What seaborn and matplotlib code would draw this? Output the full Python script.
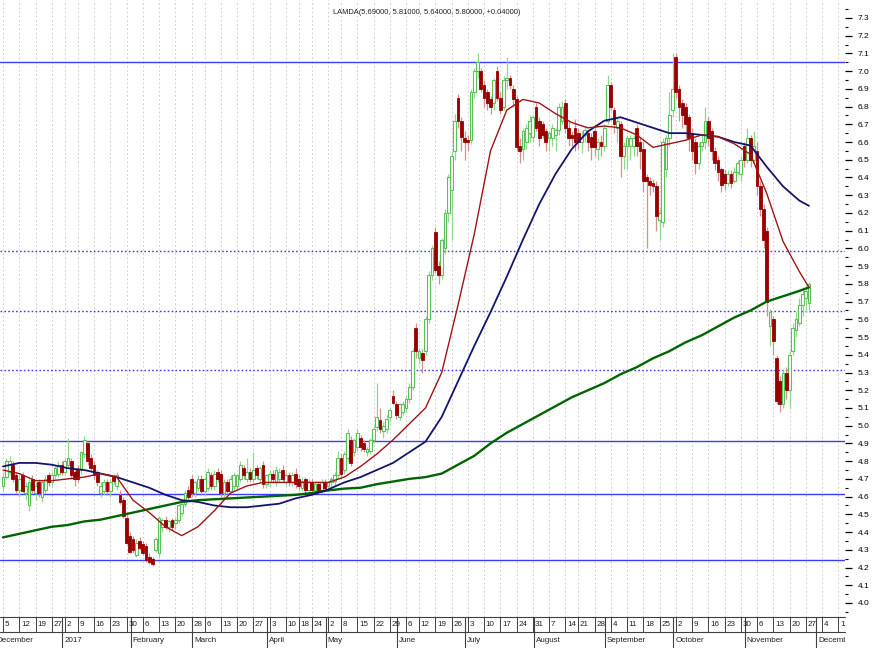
import numpy as np
import pandas as pd
import matplotlib
matplotlib.use("Agg")
import matplotlib.pyplot as plt
import matplotlib.transforms as mtransforms
from matplotlib import font_manager
import seaborn as sns

# ---------------- data ----------------
title_text = "LAMDA(5.69000, 5.81000, 5.64000, 5.80000, +0.04000)"
start_date = "2016-12-05"
holidays = ["2016-12-26", "2017-01-06", "2017-02-27", "2017-04-14", "2017-04-17",
            "2017-05-01", "2017-06-05", "2017-08-15"]

open_ = [
    4.66, 4.71, 4.74, 4.78, 4.72,
    4.64, 4.72, 4.62, 4.55, 4.70,
    4.62, 4.68, 4.60, 4.64, 4.72,
    4.68, 4.72, 4.73, 4.78,
    4.74, 4.78, 4.80, 4.74,
    4.75, 4.75, 4.84, 4.90, 4.82,
    4.78, 4.74, 4.62, 4.63, 4.68,
    4.63, 4.71, 4.66, 4.61, 4.58,
    4.48, 4.38, 4.36, 4.27, 4.35,
    4.33, 4.32, 4.26, 4.25, 4.30,
    4.28, 4.43, 4.47, 4.43, 4.47,
    4.45, 4.47, 4.51, 4.56, 4.64,
    4.70, 4.62, 4.65, 4.70,
    4.63, 4.65, 4.72, 4.66, 4.74,
    4.73, 4.62, 4.68, 4.63, 4.66,
    4.66, 4.70, 4.76, 4.70, 4.74,
    4.70, 4.76, 4.70, 4.78, 4.67,
    4.68, 4.73, 4.68, 4.70, 4.75,
    4.68, 4.72, 4.68, 4.73,
    4.70, 4.65, 4.70, 4.64,
    4.68, 4.64, 4.67, 4.64, 4.68,
    4.66, 4.68, 4.69, 4.72,
    4.82, 4.75, 4.82, 4.92, 4.85,
    4.88, 4.93, 4.90, 4.85, 4.86,
    4.92, 4.99, 5.03, 4.97, 4.98,
    5.05, 5.17, 5.12, 5.05, 5.08,
    5.10, 5.15, 5.22, 5.55,
    5.38, 5.41, 5.42, 5.60, 5.85,
    6.09, 5.90, 5.85, 6.00, 6.20,
    6.33, 6.55, 6.85, 6.72, 6.62,
    6.61, 6.61, 6.88, 7.00, 7.00,
    6.92, 6.88, 6.84, 6.82, 7.00,
    6.85, 6.80, 6.95, 6.96, 6.90,
    6.84, 6.58, 6.56, 6.60, 6.65,
    6.63, 6.80, 6.72, 6.70, 6.66,
    6.62, 6.62, 6.64, 6.67, 6.72,
    6.82, 6.68, 6.64, 6.68,
    6.65, 6.60, 6.64, 6.65, 6.63,
    6.66, 6.56, 6.60, 6.58, 6.72,
    6.92, 6.78, 6.68, 6.70, 6.52,
    6.58, 6.58, 6.58, 6.68, 6.60,
    6.56, 6.40, 6.38, 6.37, 6.35,
    6.16, 6.15, 6.45, 6.62, 6.78,
    7.08, 6.90, 6.82, 6.80, 6.74,
    6.65, 6.60, 6.48, 6.58, 6.60,
    6.72, 6.66, 6.55, 6.50, 6.45,
    6.42, 6.37, 6.42, 6.38, 6.43,
    6.42, 6.58, 6.50, 6.62, 6.50,
    6.55, 6.35, 6.22, 6.10, 5.56,
    5.60, 5.38, 5.25, 5.12, 5.30,
    5.20, 5.42, 5.54, 5.58, 5.68,
    5.72, 5.69,
]

high = [
    4.74, 4.82, 4.83, 4.80, 4.74,
    4.72, 4.74, 4.68, 4.70, 4.72,
    4.68, 4.70, 4.70, 4.72, 4.74,
    4.74, 4.77, 4.80, 4.80,
    4.82, 4.93, 4.82, 4.76,
    4.78, 4.86, 4.94, 4.91, 4.84,
    4.80, 4.75, 4.68, 4.70, 4.70,
    4.70, 4.73, 4.74, 4.64, 4.60,
    4.50, 4.40, 4.38, 4.36, 4.37,
    4.35, 4.34, 4.28, 4.26, 4.37,
    4.49, 4.48, 4.49, 4.47, 4.48,
    4.48, 4.56, 4.58, 4.64, 4.66,
    4.72, 4.69, 4.72, 4.72,
    4.71, 4.76, 4.74, 4.75, 4.76,
    4.75, 4.70, 4.70, 4.72, 4.74,
    4.73, 4.80, 4.78, 4.82, 4.76,
    4.85, 4.78, 4.77, 4.80, 4.73,
    4.75, 4.75, 4.77, 4.76, 4.78,
    4.74, 4.74, 4.74, 4.76,
    4.72, 4.71, 4.71, 4.70,
    4.70, 4.68, 4.69, 4.70, 4.70,
    4.69, 4.71, 4.74, 4.86,
    4.84, 4.86, 4.98, 4.94, 4.93,
    4.98, 4.95, 4.92, 4.88, 4.93,
    5.00, 5.24, 5.10, 5.02, 5.06,
    5.10, 5.20, 5.14, 5.13, 5.14,
    5.17, 5.24, 5.44, 5.58,
    5.44, 5.43, 5.62, 5.87, 6.02,
    6.12, 5.93, 6.06, 6.22, 6.42,
    6.55, 6.76, 6.87, 6.74, 6.66,
    6.64, 6.90, 7.02, 7.10, 7.02,
    6.95, 6.90, 6.86, 6.96, 7.03,
    6.88, 6.97, 7.08, 6.98, 6.92,
    6.86, 6.62, 6.68, 6.70, 6.75,
    6.75, 6.82, 6.74, 6.72, 6.68,
    6.66, 6.70, 6.68, 6.82, 6.83,
    6.84, 6.72, 6.66, 6.73,
    6.68, 6.66, 6.69, 6.67, 6.65,
    6.68, 6.62, 6.64, 6.70, 6.98,
    6.94, 6.80, 6.74, 6.72, 6.60,
    6.64, 6.64, 6.64, 6.70, 6.63,
    6.60, 6.42, 6.40, 6.39, 6.38,
    6.22, 6.62, 6.64, 6.88, 7.10,
    7.10, 6.92, 6.84, 6.82, 6.76,
    6.68, 6.62, 6.60, 6.64, 6.80,
    6.74, 6.68, 6.57, 6.52, 6.46,
    6.45, 6.44, 6.44, 6.46, 6.50,
    6.52, 6.60, 6.68, 6.64, 6.66,
    6.60, 6.38, 6.25, 6.12, 5.66,
    5.62, 5.40, 5.28, 5.32, 5.33,
    5.42, 5.58, 5.64, 5.72, 5.78,
    5.80, 5.81,
]

low = [
    4.63, 4.70, 4.72, 4.68, 4.62,
    4.60, 4.62, 4.58, 4.52, 4.62,
    4.58, 4.60, 4.57, 4.62, 4.66,
    4.66, 4.70, 4.71, 4.72,
    4.72, 4.76, 4.70, 4.66,
    4.68, 4.73, 4.82, 4.78, 4.74,
    4.70, 4.66, 4.60, 4.61, 4.61,
    4.60, 4.67, 4.64, 4.56, 4.48,
    4.33, 4.28, 4.28, 4.26, 4.30,
    4.27, 4.23, 4.22, 4.21, 4.29,
    4.26, 4.40, 4.42, 4.40, 4.41,
    4.42, 4.45, 4.49, 4.54, 4.58,
    4.60, 4.60, 4.63, 4.61,
    4.61, 4.63, 4.64, 4.64, 4.68,
    4.60, 4.60, 4.61, 4.62, 4.64,
    4.64, 4.68, 4.70, 4.68, 4.68,
    4.68, 4.70, 4.68, 4.65, 4.65,
    4.66, 4.68, 4.66, 4.68, 4.68,
    4.66, 4.66, 4.66, 4.65,
    4.64, 4.63, 4.62, 4.62,
    4.62, 4.62, 4.62, 4.62, 4.63,
    4.63, 4.65, 4.66, 4.70,
    4.71, 4.73, 4.80, 4.77, 4.83,
    4.86, 4.86, 4.85, 4.83, 4.84,
    4.90, 4.97, 4.96, 4.93, 4.96,
    5.02, 5.12, 5.04, 5.03, 5.06,
    5.08, 5.13, 5.20, 5.38,
    5.35, 5.30, 5.40, 5.58, 5.82,
    5.86, 5.80, 5.83, 5.97, 6.15,
    6.05, 6.50, 6.68, 6.55, 6.50,
    6.55, 6.59, 6.85, 6.96, 6.88,
    6.80, 6.78, 6.76, 6.78, 6.83,
    6.76, 6.78, 6.90, 6.90, 6.80,
    6.55, 6.48, 6.50, 6.56, 6.60,
    6.60, 6.66, 6.58, 6.62, 6.55,
    6.55, 6.58, 6.55, 6.64, 6.70,
    6.65, 6.58, 6.58, 6.55,
    6.56, 6.54, 6.60, 6.55, 6.50,
    6.52, 6.50, 6.52, 6.55, 6.70,
    6.78, 6.65, 6.60, 6.40, 6.45,
    6.45, 6.50, 6.52, 6.52, 6.45,
    6.32, 6.00, 6.30, 6.32, 6.10,
    6.05, 6.12, 6.40, 6.58, 6.74,
    6.85, 6.72, 6.68, 6.62, 6.55,
    6.50, 6.42, 6.45, 6.55, 6.56,
    6.58, 6.50, 6.44, 6.38, 6.32,
    6.33, 6.35, 6.34, 6.37, 6.42,
    6.38, 6.46, 6.48, 6.46, 6.48,
    6.30, 6.18, 6.00, 5.62, 5.45,
    5.40, 5.12, 5.08, 5.10, 5.15,
    5.10, 5.40, 5.50, 5.56, 5.62,
    5.64, 5.64,
]

close = [
    4.71, 4.80, 4.80, 4.70, 4.64,
    4.70, 4.63, 4.66, 4.68, 4.64,
    4.66, 4.62, 4.68, 4.70, 4.68,
    4.72, 4.76, 4.78, 4.74,
    4.80, 4.82, 4.72, 4.70,
    4.70, 4.85, 4.92, 4.80, 4.76,
    4.72, 4.68, 4.66, 4.68, 4.63,
    4.68, 4.69, 4.72, 4.57, 4.49,
    4.34, 4.29, 4.30, 4.34, 4.31,
    4.28, 4.24, 4.23, 4.22, 4.36,
    4.48, 4.47, 4.43, 4.46, 4.43,
    4.47, 4.55, 4.56, 4.62, 4.60,
    4.62, 4.68, 4.70, 4.63,
    4.70, 4.74, 4.66, 4.73, 4.70,
    4.62, 4.68, 4.63, 4.70, 4.72,
    4.72, 4.78, 4.72, 4.74, 4.70,
    4.75, 4.72, 4.76, 4.67, 4.72,
    4.73, 4.70, 4.75, 4.74, 4.70,
    4.72, 4.68, 4.72, 4.67,
    4.66, 4.69, 4.64, 4.68,
    4.64, 4.67, 4.64, 4.68, 4.65,
    4.68, 4.70, 4.72, 4.82,
    4.73, 4.84, 4.96, 4.79, 4.92,
    4.96, 4.88, 4.87, 4.87, 4.92,
    4.98, 5.05, 4.98, 5.00, 5.04,
    5.09, 5.13, 5.06, 5.12, 5.12,
    5.15, 5.22, 5.42, 5.42,
    5.42, 5.37, 5.60, 5.85, 6.00,
    5.88, 5.85, 6.05, 6.20, 6.40,
    6.52, 6.72, 6.72, 6.63, 6.60,
    6.60, 6.88, 7.00, 7.05, 6.90,
    6.85, 6.82, 6.80, 6.95, 6.85,
    6.78, 6.95, 6.96, 6.92, 6.84,
    6.57, 6.55, 6.66, 6.68, 6.72,
    6.74, 6.68, 6.62, 6.64, 6.60,
    6.65, 6.68, 6.67, 6.80, 6.80,
    6.68, 6.62, 6.62, 6.60,
    6.60, 6.63, 6.67, 6.60, 6.57,
    6.57, 6.60, 6.58, 6.68, 6.92,
    6.80, 6.70, 6.72, 6.52, 6.58,
    6.62, 6.62, 6.62, 6.58, 6.55,
    6.38, 6.38, 6.36, 6.35, 6.18,
    6.20, 6.60, 6.62, 6.75, 6.90,
    6.88, 6.80, 6.75, 6.70, 6.62,
    6.55, 6.48, 6.58, 6.60, 6.72,
    6.62, 6.55, 6.48, 6.43, 6.36,
    6.37, 6.42, 6.37, 6.43, 6.48,
    6.50, 6.50, 6.62, 6.50, 6.58,
    6.35, 6.22, 6.05, 5.70, 5.64,
    5.48, 5.14, 5.12, 5.30, 5.20,
    5.40, 5.55, 5.60, 5.68, 5.74,
    5.76, 5.80,
]

# moving averages read at every 5th trading day (and the last one)
ma_idx = list(range(0, 246, 5)) + [248]
ma_red = [4.75, 4.73, 4.69, 4.69, 4.70, 4.71, 4.73, 4.71, 4.58, 4.51,
          4.43, 4.38, 4.43, 4.52, 4.62, 4.66, 4.68, 4.68, 4.68, 4.68,
          4.68, 4.71, 4.77, 4.84, 4.92, 5.01, 5.10, 5.30, 5.68, 6.08,
          6.55, 6.78, 6.84, 6.82, 6.76, 6.71, 6.68, 6.69, 6.68, 6.64,
          6.57, 6.59, 6.61, 6.64, 6.63, 6.59, 6.53, 6.31, 6.04, 5.87, 5.78]
ma_navy = [4.77, 4.79, 4.79, 4.78, 4.76, 4.75, 4.73, 4.71, 4.68, 4.65,
           4.61, 4.58, 4.57, 4.55, 4.54, 4.54, 4.55, 4.56, 4.59, 4.61,
           4.64, 4.68, 4.71, 4.75, 4.79, 4.85, 4.91, 5.05, 5.25, 5.45,
           5.64, 5.84, 6.05, 6.25, 6.42, 6.56, 6.66, 6.72, 6.74, 6.71,
           6.68, 6.65, 6.65, 6.64, 6.63, 6.60, 6.58, 6.46, 6.35, 6.27, 6.24]
ma_green = [4.37, 4.39, 4.41, 4.43, 4.44, 4.46, 4.47, 4.49, 4.51, 4.53,
            4.55, 4.57, 4.58, 4.585, 4.59, 4.595, 4.60, 4.605, 4.61, 4.62,
            4.635, 4.645, 4.65, 4.67, 4.685, 4.70, 4.71, 4.73, 4.78, 4.83,
            4.90, 4.96, 5.01, 5.06, 5.11, 5.16, 5.20, 5.24, 5.29, 5.33,
            5.38, 5.42, 5.47, 5.51, 5.56, 5.61, 5.65, 5.70, 5.73, 5.76, 5.78]

level_solid = [7.05, 4.914, 4.615, 4.243]
level_dotted = [5.985, 5.647, 5.314]

# ---------------- style ----------------
sns.set_style("white")
names = {f.name for f in font_manager.fontManager.ttflist}
FONT = "Liberation Sans Narrow" if "Liberation Sans Narrow" in names else "Liberation Sans"
plt.rcParams["font.family"] = [FONT, "DejaVu Sans"]
narrow = FONT == "Liberation Sans Narrow"
FS_TICK = 6.5 if narrow else 6.0
FS_DATE = 6.5 if narrow else 5.8
FS_TITLE = 6.5 if narrow else 5.4

W, H = 877, 648
fig = plt.figure(figsize=(W / 100, H / 100), dpi=100)
fig.patch.set_facecolor("white")
ax_right_px, ax_bottom_px = 845, 617
ax = fig.add_axes([0, (H - ax_bottom_px) / H, ax_right_px / W, ax_bottom_px / H])
ax.set_facecolor("white")

px_per_day = 3.25
x0_px = 3.0
ax.set_xlim(-x0_px / px_per_day, (ax_right_px - x0_px) / px_per_day)
ax.set_ylim(3.921, 7.401)

# ---------------- dates ----------------
dates = pd.bdate_range("2016-12-01", "2017-12-15")
dates = dates[~dates.isin(pd.to_datetime(holidays))]
pos = np.arange(len(dates)) - int(dates.get_loc(pd.Timestamp(start_date)))
cal = pd.DataFrame({"date": dates, "pos": pos})
iso = cal["date"].dt.isocalendar()
cal["wk"] = iso["year"].astype(int) * 100 + iso["week"].astype(int)
cal["mo"] = cal["date"].dt.year * 100 + cal["date"].dt.month
xmax = ax.get_xlim()[1]
weeks = cal.groupby("wk").first()
weeks = weeks[(weeks["pos"] >= 0) & (weeks["pos"] < xmax - 0.5)]
months = cal.groupby("mo").first()

# ---------------- candles ----------------
o = np.array(open_); h = np.array(high); l = np.array(low); c = np.array(close)
n = len(c)
xi = np.arange(n)
up = c >= o
up_edge, up_wick = "#5cbf5c", "#8fd98f"
dn_face, dn_wick = "#990000", "#d49090"

ax.set_xticks(weeks["pos"].values)
ax.set_xticklabels([])
ax.tick_params(axis="x", length=0)
ax.grid(axis="x", color="#c4c4c4", linestyle=(0, (2, 3)), linewidth=0.6)
ax.grid(axis="y", visible=False)
ax.set_axisbelow(True)

for v in level_solid:
    ax.axhline(v, color="#3c3cff", lw=1.0, zorder=1)
for v in level_dotted:
    ax.axhline(v, color="#3c3cff", lw=1.0, linestyle=(0, (1.2, 1.6)), zorder=1)

ax.vlines(xi[up], l[up], h[up], color=up_wick, lw=0.9, zorder=2)
ax.vlines(xi[~up], l[~up], h[~up], color=dn_wick, lw=0.9, zorder=2)
body_lo = np.minimum(o, c)
body_h = np.maximum(np.abs(c - o), 0.006)
ax.bar(xi[up], body_h[up], bottom=body_lo[up], width=0.8, facecolor="white",
       edgecolor=up_edge, linewidth=0.8, zorder=3)
ax.bar(xi[~up], body_h[~up], bottom=body_lo[~up], width=0.8, facecolor=dn_face,
       edgecolor=dn_face, linewidth=0.6, zorder=3)

# moving averages
sns.lineplot(x=ma_idx, y=ma_green, ax=ax, color="#006400", linewidth=1.7, zorder=5)
sns.lineplot(x=ma_idx, y=ma_navy, ax=ax, color="#14146e", linewidth=1.3, zorder=5)
sns.lineplot(x=ma_idx, y=ma_red, ax=ax, color="#a01414", linewidth=1.0, zorder=6)

# ---------------- right axis ----------------
for s in ax.spines.values():
    s.set_visible(False)
ax.yaxis.tick_right()
yt = np.round(np.arange(4.0, 7.31, 0.1), 1)
ax.set_yticks(yt)
ax.set_yticklabels([f"{v:.1f}" for v in yt], fontsize=FS_TICK)
ax.set_yticks(np.round(np.arange(3.95, 7.40, 0.1), 2), minor=True)
ax.tick_params(axis="y", which="major", direction="out", length=5, width=0.9,
               pad=4, colors="black", labelsize=FS_TICK)
ax.tick_params(axis="y", which="minor", direction="out", length=2, width=0.8, colors="black")
ax.set_xlabel(""); ax.set_ylabel("")

# ---------------- date strip ----------------
trans = mtransforms.blended_transform_factory(ax.transData, ax.transAxes)
Hax = ax_bottom_px
def yf(ypix):
    return (ax_bottom_px - ypix) / Hax

clipbox = mtransforms.TransformedBbox(
    mtransforms.Bbox([[0, 0], [ax_right_px / W, 1]]), fig.transFigure)

ax.plot([0, 1], [yf(617), yf(617)], transform=ax.transAxes, color="#404040", lw=0.8, clip_on=False)
ax.plot([0, 1], [yf(632), yf(632)], transform=ax.transAxes, color="#404040", lw=0.8, clip_on=False)

for p, d in zip(weeks["pos"].values, weeks["date"]):
    ax.plot([p, p], [yf(617), yf(632)], transform=trans, color="#404040", lw=0.7, clip_on=False)
    t = ax.text(p + 0.55, yf(624.5), str(d.day), transform=trans, ha="left", va="center",
                fontsize=FS_DATE, color="#202020")
    t.set_clip_on(True); t.set_clip_box(clipbox)

for p, d in zip(months["pos"].values, months["date"]):
    mp = p - 0.7
    lbl = str(d.year) if d.month == 1 else d.strftime("%B")
    if mp < xmax:
        ax.plot([mp, mp], [yf(617), yf(648)], transform=trans, color="#404040", lw=0.8, clip_on=False)
    t = ax.text(mp + 0.55, yf(640.5), lbl, transform=trans, ha="left", va="center",
                fontsize=FS_DATE, color="#202020")
    t.set_clip_on(True); t.set_clip_box(clipbox)

fig.text(333 / W, 1 - 12 / H, title_text, ha="left", va="center", fontsize=FS_TITLE, color="#202020")

fig.savefig("out.png", dpi=100, facecolor="white")
